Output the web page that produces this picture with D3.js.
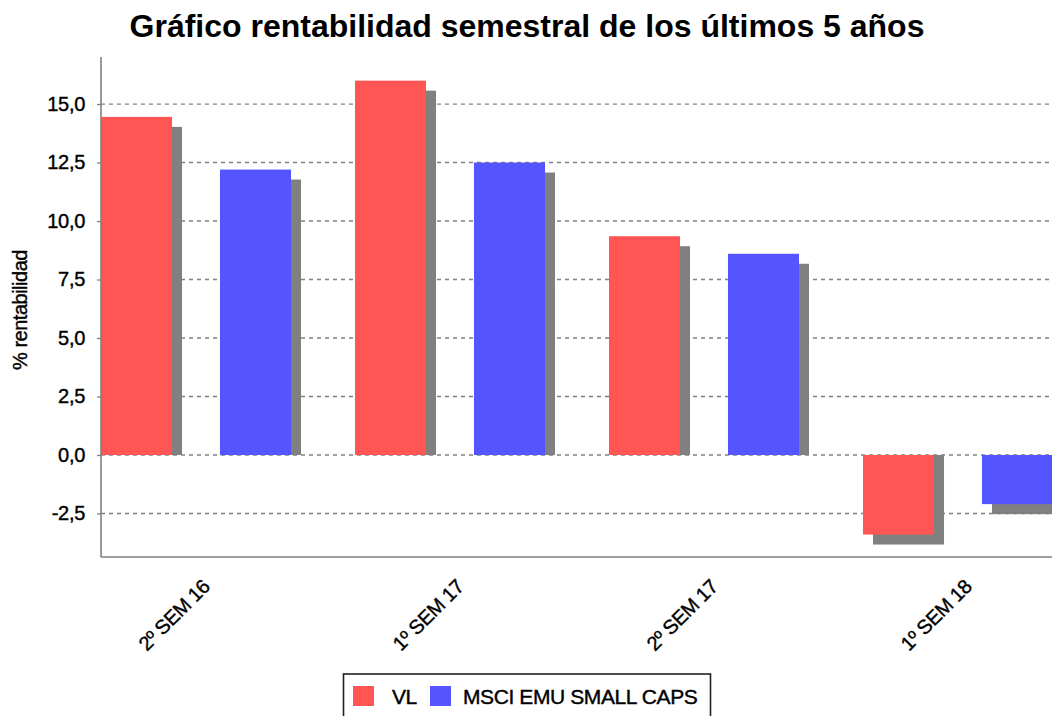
<!DOCTYPE html>
<html><head><meta charset="utf-8">
<script src="https://cdn.jsdelivr.net/npm/d3@7"></script>
<style>body{margin:0;background:#fff}svg{display:block}text{font-family:"Liberation Sans",Arial,sans-serif}</style>
</head><body>
<svg id="c" width="1052" height="716"></svg>
<script>
const categories = ["2º SEM 16", "1º SEM 17", "2º SEM 17", "1º SEM 18"];
const series = ["VL", "MSCI EMU SMALL CAPS"];
const vl = [14.45, 16.0, 9.35, -3.4];
const msci = [12.2, 12.5, 8.6, -2.1];
const yTicks = [-2.5, 0, 2.5, 5, 7.5, 10, 12.5, 15];
const colors = ["#ff5555", "#5555ff"];
const title = "Gráfico rentabilidad semestral de los últimos 5 años";
const yLabel = "% rentabilidad";

const svg = d3.select("#c");
const L = 101, T = 57, B = 557, R = 1052;
const y = d3.scaleLinear().domain([-4.36, 17.01]).range([B, T]);
const x = d3.scaleBand().domain(categories).range([L, L + 4 * 254]);
const xs = d3.scaleBand().domain(series).range([0, 190]).paddingInner(0.403);
const fmt = v => d3.format(".1f")(v).replace(".", ",").replace("\u2212", "-");

// title
svg.append("text").attr("x", 527).attr("y", 37).attr("text-anchor", "middle")
  .attr("font-size", 32).attr("font-weight", "bold").attr("fill", "#000").text(title);

// grid
const g = svg.append("g");
g.selectAll("line.grid").data(yTicks).join("line")
  .attr("x1", L).attr("x2", R).attr("y1", d => y(d)).attr("y2", d => y(d))
  .attr("stroke", "#808080").attr("stroke-width", 1.3).attr("stroke-dasharray", "4,4");

// bars
const data = [];
categories.forEach((c, i) => {
  data.push({c, s: series[0], v: vl[i]});
  data.push({c, s: series[1], v: msci[i]});
});
svg.append("clipPath").attr("id", "pc").append("rect")
  .attr("x", L).attr("y", T).attr("width", R - L).attr("height", B - T);
const bars = svg.append("g").attr("clip-path", "url(#pc)");
const bw = xs.bandwidth();
bars.selectAll("rect.sh").data(data).join("rect")
  .attr("x", d => x(d.c) + xs(d.s) + 10)
  .attr("y", d => d.v >= 0 ? y(d.v) + 10 : y(0))
  .attr("width", bw)
  .attr("height", d => d.v >= 0 ? y(0) - y(d.v) - 10 : y(d.v) - y(0) + 10)
  .attr("fill", "#808080");
bars.selectAll("rect.bar").data(data).join("rect")
  .attr("x", d => x(d.c) + xs(d.s))
  .attr("y", d => y(Math.max(0, d.v)))
  .attr("width", bw)
  .attr("height", d => Math.abs(y(d.v) - y(0)))
  .attr("fill", d => colors[series.indexOf(d.s)]);

// axes
const ya = svg.append("g").attr("transform", `translate(${L},0)`)
  .call(d3.axisLeft(y).tickValues(yTicks).tickFormat(fmt).tickSize(4).tickPadding(12));
ya.select(".domain").remove();
ya.selectAll(".tick line").attr("stroke", "#808080").attr("stroke-width", 1.3);
ya.selectAll(".tick text").attr("font-size", 20).attr("fill", "#000")
  .attr("font-family", "Liberation Sans, Arial, sans-serif").attr("letter-spacing", -0.3)
  .attr("stroke", "#000").attr("stroke-width", 0.4);
svg.append("line").attr("x1", L).attr("x2", L).attr("y1", T).attr("y2", B)
  .attr("stroke", "#808080").attr("stroke-width", 1.6);
svg.append("line").attr("x1", L).attr("x2", R).attr("y1", B).attr("y2", B)
  .attr("stroke", "#808080").attr("stroke-width", 1.6);

// category labels
svg.append("g").selectAll("text").data(categories).join("text")
  .attr("transform", d => `translate(${x(d) + 110},588) rotate(-45)`)
  .attr("text-anchor", "end").attr("font-size", 20).attr("letter-spacing", -0.5)
  .attr("stroke", "#000").attr("stroke-width", 0.4)
  .attr("fill", "#000").text(d => d);

// y label
svg.append("text").attr("transform", "translate(27,310) rotate(-90)")
  .attr("text-anchor", "middle").attr("font-size", 20).attr("letter-spacing", -0.5)
  .attr("stroke", "#000").attr("stroke-width", 0.4)
  .attr("fill", "#000").text(yLabel);

// legend
const lg = svg.append("g");
lg.append("rect").attr("x", 343.5).attr("y", 674).attr("width", 367).attr("height", 50)
  .attr("fill", "#fff").attr("stroke", "#222").attr("stroke-width", 1.6);
const lx = [353, 430], tx = [392, 463];
series.forEach((s, i) => {
  lg.append("rect").attr("x", lx[i]).attr("y", 686).attr("width", 21).attr("height", 20).attr("fill", colors[i]);
  lg.append("text").attr("x", tx[i]).attr("y", 704).attr("font-size", 21)
    .attr("letter-spacing", -0.4).attr("stroke", "#000").attr("stroke-width", 0.4)
    .attr("fill", "#000").text(s);
});
</script>
</body></html>
